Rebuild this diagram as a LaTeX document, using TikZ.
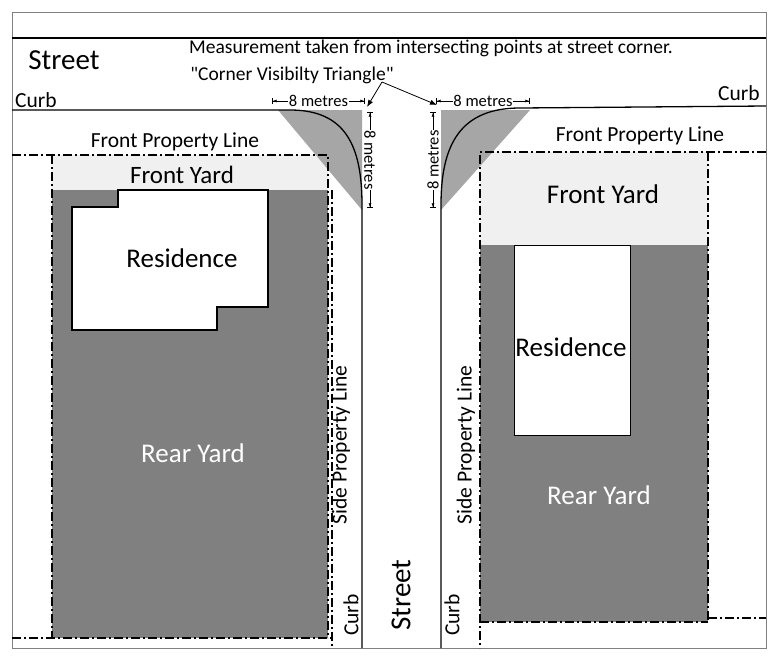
\documentclass[tikz,border=0pt]{standalone}
\usepackage{fontspec}
\setmainfont{Carlito}
\usetikzlibrary{arrows.meta}
\begin{document}
\begin{tikzpicture}[x=1pt,y=-1pt,
  prop/.style={line width=1.3pt,dash pattern=on 9pt off 3pt on 2pt off 3pt},
  curb/.style={line width=1.3pt},
  dim/.style={line width=0.6pt,{Bar[width=6pt]Latex[length=4pt]}-{Latex[length=4pt]Bar[width=6pt]}},
  lbl/.style={inner sep=1pt,font=\fontsize{19.5}{22}\selectfont},
  med/.style={inner sep=1pt,font=\fontsize{21.5}{24}\selectfont},
  dl/.style={fill=white,inner sep=0.5pt,font=\fontsize{16.5}{18}\selectfont},
  big/.style={inner sep=1pt,font=\fontsize{27}{31}\selectfont},
  mid/.style={inner sep=1pt,font=\fontsize{25}{29}\selectfont}]
\useasboundingbox (0,0) rectangle (772,662);
\fill[white] (0,0) rectangle (772,662);
% lots fills
\fill[gray!12] (52,155) rectangle (328,190);
\fill[black!50] (52,190) rectangle (328,638);
\fill[gray!12] (480,152) rectangle (708,245);
\fill[black!50] (480,245) rectangle (708,622);
% triangles
\fill[black!35] (278,110) -- (362,110) -- (362,210) -- cycle;
\fill[black!35] (441,110) -- (530,110) -- (441,210) -- cycle;
% residences
\draw[fill=white,line width=1.3pt] (118,190) -- (268,190) -- (268,307) -- (217,307) -- (217,330) -- (72,330) -- (72,207) -- (118,207) -- cycle;
\node[draw,fill=white,line width=1.3pt,minimum width=116pt,minimum height=190pt,anchor=north west,inner sep=0pt] (res2) at (514,245) {};
% frame and street lines
\draw[gray,line width=0.8pt] (12,12) rectangle (766,648);
\draw[line width=1.5pt] (12,38) -- (766,38);
\draw[curb] (12,110) -- (290,110) .. controls (345,110) and (362,145) .. (362,205) -- (362,648);
\draw[curb] (441,648) -- (441,205) .. controls (441,145) and (460,108) .. (520,108) -- (766,106);
% property lines
\draw[prop] (12,155) -- (328,155) -- (328,638);
\draw[prop] (52,155) -- (52,638);
\draw[prop] (12,638) -- (332,638);
\draw[prop] (332,190) -- (332,648);
\draw[prop] (766,152) -- (480,152) -- (480,648);
\draw[prop] (708,152) -- (708,622);
\draw[prop] (480,622) -- (708,622);
\draw[prop] (708,618) -- (766,618);
% dimensions
\draw[dim] (272,101) -- node[dl] {8 metres} (365,101);
\draw[dim] (436,101) -- node[dl] {8 metres} (530,101);
\draw[dim] (370,112) -- node[dl,rotate=-90] {8 metres} (370,208);
\draw[dim] (433,112) -- node[dl,rotate=90] {8 metres} (433,208);
% arrows
\coordinate (ap) at (382,82);
\draw[line width=0.8pt,-{Latex[length=7pt]}] (ap) -- (367,107);
\draw[line width=0.8pt,-{Latex[length=7pt]}] (ap) -- (437,105);
% texts
\node[big,font=\fontsize{29}{33}\selectfont] (st) at (64,60) {Street};
\node[lbl] (m) at (431,48) {Measurement taken from intersecting points at street corner.};
\node[lbl] (cv) at (292,75) {\textquotedbl Corner Visibilty Triangle\textquotedbl};
\node[med] (c1) at (36,100) {Curb};
\node[med] (c2) at (739,93) {Curb};
\node[med] (f1) at (175,142) {Front Property Line};
\node[med] (f2) at (640,136) {Front Property Line};
\node[mid] (fy1) at (182,175) {Front Yard};
\node[big] (fy2) at (603,194) {Front Yard};
\node[big] (r1) at (182,258) {Residence};
\node[big] (r2) at (571,347) {Residence};
\node[big,white] (ry1) at (193,453) {Rear Yard};
\node[big,white] (ry2) at (599,495) {Rear Yard};
\node[med,rotate=90] (sp1) at (341,445) {Side Property Line};
\node[med,rotate=90] (sp2) at (466,445) {Side Property Line};
\node[med,rotate=90] (cb1) at (351,615) {Curb};
\node[med,rotate=90] (cb2) at (452,615) {Curb};
\node[big,font=\fontsize{29}{33}\selectfont,rotate=90] (st2) at (401,595) {Street};
\end{tikzpicture}
\end{document}
